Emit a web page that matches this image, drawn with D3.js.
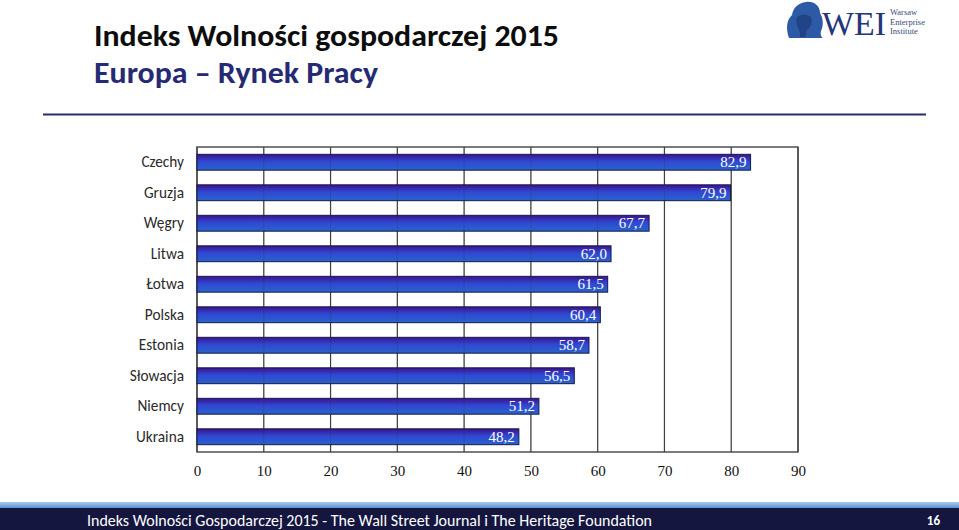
<!DOCTYPE html>
<html><head><meta charset="utf-8">
<script src="https://cdn.jsdelivr.net/npm/d3@7"></script>
<style>body{margin:0;background:#fff}svg{display:block}</style>
</head><body>
<script>
const categories = ["Czechy","Gruzja","Węgry","Litwa","Łotwa","Polska","Estonia","Słowacja","Niemcy","Ukraina"];
const values = [82.9,79.9,67.7,62.0,61.5,60.4,58.7,56.5,51.2,48.2];
const tickValues = [0,10,20,30,40,50,60,70,80,90];
const title1 = "Indeks Wolności gospodarczej 2015";
const title2 = "Europa – Rynek Pracy";
const footer = "Indeks Wolności Gospodarczej 2015 - The Wall Street Journal i The Heritage Foundation";
const pageNum = "16";

const W = 959, H = 530;
const svg = d3.select("body").append("svg").attr("width", W).attr("height", H);
const defs = svg.append("defs");
const g1 = defs.append("linearGradient").attr("id","barg").attr("x1",0).attr("y1",0).attr("x2",0).attr("y2",1);
g1.append("stop").attr("offset","0%").attr("stop-color","#3d1289");
g1.append("stop").attr("offset","45%").attr("stop-color","#2f48d4");
g1.append("stop").attr("offset","100%").attr("stop-color","#2a63c9");
const g2 = defs.append("linearGradient").attr("id","footg").attr("x1",0).attr("y1",0).attr("x2",0).attr("y2",1);
g2.append("stop").attr("offset","0%").attr("stop-color","#a8cdf0");
g2.append("stop").attr("offset","100%").attr("stop-color","#4f86c6");

const sans = "Calibri, Carlito, 'Open Sans', 'Noto Sans', sans-serif";
const serif = "'Liberation Serif', 'Times New Roman', serif";

// Titles
svg.append("text").attr("x",94).attr("y",46).attr("font-family",sans).attr("font-weight","bold")
  .attr("font-size",29.5).attr("fill","#0d0d0d").attr("textLength",465).attr("lengthAdjust","spacingAndGlyphs").text(title1);
svg.append("text").attr("x",94).attr("y",83).attr("font-family",sans).attr("font-weight","bold")
  .attr("font-size",29.5).attr("fill","#262a73").attr("textLength",284).attr("lengthAdjust","spacingAndGlyphs").text(title2);

// Divider
svg.append("line").attr("x1",43).attr("x2",926).attr("y1",114.5).attr("y2",114.5)
  .attr("stroke","#2b2a6b").attr("stroke-width",2);

// Logo
const logo = svg.append("g");
logo.append("path").attr("d","M789,38 C786,29 786,21 792,15 C793,8 798,3 806,2 C814,1 820,6 820,13 C823,18 824,25 821,31 C820,34 821,37 823,38 Z")
  .attr("fill","#2c5aa6");
logo.append("path").attr("d","M796,19 C799,14 806,13 811,17 C813,22 811,27 807,30 L805,37 L800,37 C801,31 796,26 796,19 Z").attr("fill","#1a3673").attr("opacity",0.6);
logo.append("text").attr("x",822).attr("y",35).attr("font-family",serif).attr("font-size",34)
  .attr("fill","#24357a").attr("textLength",64).attr("lengthAdjust","spacingAndGlyphs").text("WEI");
["Warsaw","Enterprise","Institute"].forEach((t,i)=>{
  logo.append("text").attr("x",890).attr("y",15+i*9.5).attr("font-family",serif).attr("font-size",8.5)
    .attr("fill","#3a4a7a").text(t);
});

// Chart
const x0 = 197, x1 = 798, y0 = 147, y1 = 452;
const x = d3.scaleLinear().domain([0,90]).range([x0,x1]);
const y = d3.scaleBand().domain(categories).range([y0,y1]).paddingInner(0.48).paddingOuter(0.24);

const chart = svg.append("g");
chart.selectAll("line.grid").data(tickValues).join("line").attr("class","grid")
  .attr("x1",d=>x(d)).attr("x2",d=>x(d)).attr("y1",y0).attr("y2",y1)
  .attr("stroke","#444").attr("stroke-width",1.2);
chart.append("rect").attr("x",x0).attr("y",y0).attr("width",x1-x0).attr("height",y1-y0)
  .attr("fill","none").attr("stroke","#444").attr("stroke-width",1.4);

chart.selectAll("rect.bar").data(values).join("rect").attr("class","bar")
  .attr("x",x(0)).attr("y",(d,i)=>y(categories[i]))
  .attr("width",d=>x(d)-x(0)).attr("height",y.bandwidth())
  .attr("fill","url(#barg)").attr("stroke","#141a4a").attr("stroke-width",1);

chart.selectAll("line.gridover").data(tickValues.slice(1,-1)).join("line").attr("class","gridover")
  .attr("x1",d=>x(d)).attr("x2",d=>x(d)).attr("y1",y0).attr("y2",y1)
  .attr("stroke","#333").attr("stroke-width",1).attr("opacity",0.25);

chart.selectAll("text.val").data(values).join("text").attr("class","val")
  .attr("x",d=>x(d)-4).attr("y",(d,i)=>y(categories[i])+y.bandwidth()/2+5)
  .attr("text-anchor","end").attr("font-family",serif).attr("font-size",15).attr("fill","#fff")
  .text(d=>d.toFixed(1).replace(".",","));

// y axis labels
const yAxis = d3.axisLeft(y).tickSize(0).tickPadding(13);
const ya = chart.append("g").attr("transform",`translate(${x0},0)`).call(yAxis);
ya.select(".domain").remove();
ya.selectAll("text").attr("font-family",sans).attr("font-size",15.3).attr("fill","#2a2a2a");

// x axis labels
const xAxis = d3.axisBottom(x).tickValues(tickValues).tickSize(0).tickPadding(13);
const xa = chart.append("g").attr("transform",`translate(0,${y1})`).call(xAxis);
xa.select(".domain").remove();
xa.selectAll("text").attr("font-family",serif).attr("font-size",15).attr("fill","#111");

// Footer
svg.append("rect").attr("x",0).attr("y",502).attr("width",W).attr("height",7).attr("fill","url(#footg)");
svg.append("rect").attr("x",0).attr("y",508).attr("width",W).attr("height",22).attr("fill","#15163f");
svg.append("text").attr("x",87).attr("y",526).attr("font-family",sans).attr("font-size",15.5)
  .attr("fill","#fff").attr("textLength",565).attr("lengthAdjust","spacingAndGlyphs").text(footer);
svg.append("text").attr("x",940).attr("y",525).attr("text-anchor","end").attr("font-family",sans)
  .attr("font-weight","bold").attr("font-size",13).attr("fill","#fff").text(pageNum);
</script>
</body></html>
